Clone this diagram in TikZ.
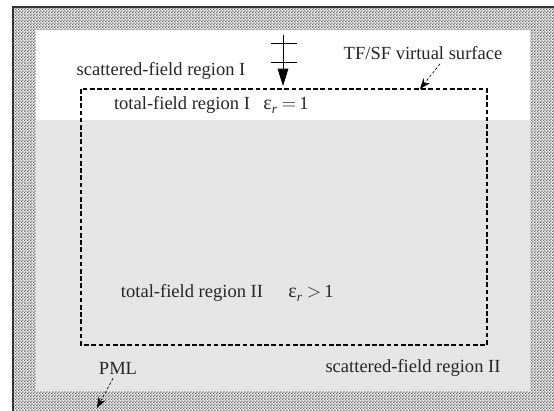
\documentclass[tikz,border=0pt]{standalone}
\usepackage{fontspec}
\setmainfont{Liberation Serif}
\usetikzlibrary{patterns,arrows.meta}
\pgfdeclarepatternformonly{finecheck}{\pgfpointorigin}{\pgfpoint{2.4pt}{2.4pt}}{\pgfpoint{2.4pt}{2.4pt}}{%
  \pgfpathrectangle{\pgfpointorigin}{\pgfpoint{1.2pt}{1.2pt}}%
  \pgfpathrectangle{\pgfpoint{1.2pt}{1.2pt}}{\pgfpoint{1.2pt}{1.2pt}}%
  \pgfusepath{fill}}
\newcommand{\epsr}{{\fontsize{15}{15}\selectfont ε}\raisebox{-0.45ex}{\fontsize{10}{10}\selectfont\itshape r}}
\tikzset{
  lbl/.style={font=\fontsize{13.9}{16}\selectfont, inner sep=0pt, text=black!85},
  tfsf/.style={line width=1.4pt, dash pattern=on 3.4pt off 2pt},
  pointer/.style={line width=0.5pt, dash pattern=on 2pt off 1.5pt, -{Stealth[length=8pt,width=6pt]}},
}
\begin{document}
\begin{tikzpicture}[x=0.75pt,y=-0.75pt]
\useasboundingbox (0,0) rectangle (554,411);
\fill[white] (0,0) rectangle (554,411);
% PML layer
\fill[pattern=finecheck, pattern color=black!62] (13,7) rectangle (554,411);
\draw[line width=1.2pt, black!80] (13,411) -- (13,7) -- (554,7);
% inner regions
\fill[white] (36,30) rectangle (530,120);
\fill[black!10] (36,120) rectangle (530,391);
% TF/SF surface
\draw[tfsf] (81,89) rectangle (487,345);
\coordinate (tfsftop) at (420,89);
\coordinate (pmlpt) at (97,408);
% source symbol
\coordinate (srctop) at (283,35);
\coordinate (srctip) at (283,86);
\draw[line width=0.6pt] (271,43) -- (297,43) (271,62) -- (297,62);
\draw[line width=0.6pt, -{Triangle[length=13pt,width=8pt]}] (srctop) -- (srctip);
% labels
\node[lbl] (sf1) at (161,71) {scattered-field region I};
\node[lbl] (surf) at (423,53) {TF/SF virtual surface};
\node[lbl] (tf1) at (182,105) {total-field region I};
\node[lbl] (eps1) at (286,105) {\epsr\ $=$\,1};
\node[lbl] (tf2) at (192,293) {total-field region II};
\node[lbl] (eps2) at (311,293) {\epsr\ $>$\,1};
\node[lbl] (pml) at (118,368) {PML};
\node[lbl] (sf2) at (413,368) {scattered-field region II};
% pointers
\draw[pointer] (surf.south) ++(17,4) -- (tfsftop);
\draw[pointer] (pml.south) ++(-5,4) -- (pmlpt);
\end{tikzpicture}
\end{document}
